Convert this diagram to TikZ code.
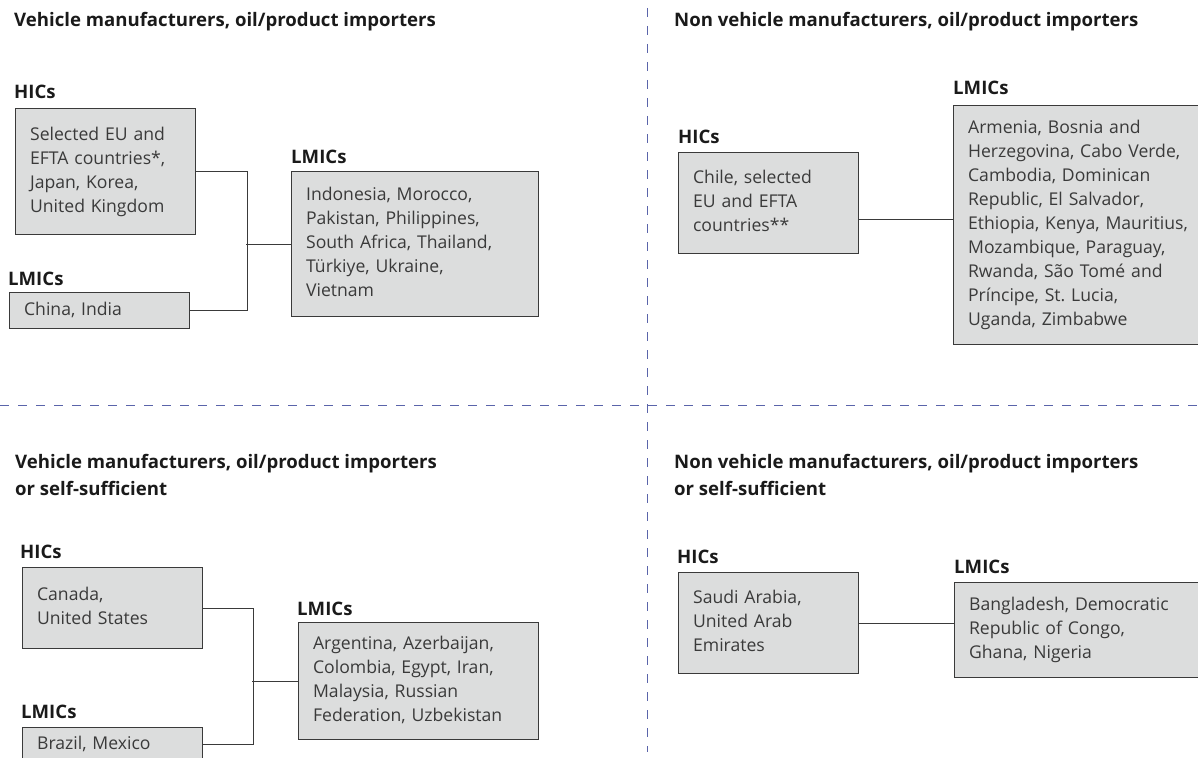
\documentclass[tikz,border=0pt]{standalone}
\usepackage{fontspec}
\setmainfont{Open Sans}
\frenchspacing
\definecolor{boxfill}{HTML}{DCDDDD}
\definecolor{boxline}{HTML}{3A3A3A}
\definecolor{bodytext}{HTML}{3A3A3A}
\definecolor{headtext}{HTML}{1A1A1A}
\definecolor{dashline}{HTML}{5A64AA}
\newcommand{\boxlines}[1]{\begin{tabular}{@{}l@{}}#1\end{tabular}}
\begin{document}
\begin{tikzpicture}[x=1pt,y=-1pt,
    head/.style={anchor=base west, inner sep=0pt, align=left, text=headtext,
      font=\fontsize{18.6}{27}\selectfont\bfseries},
    box/.style={draw=boxline, line width=1.2pt, fill=boxfill, anchor=north west,
      inner xsep=14.5pt, inner ysep=0pt, align=left, text=bodytext,
      font=\fontsize{17.6}{24}\selectfont},
    link/.style={draw=boxline, line width=1.1pt},
    divider/.style={draw=dashline, line width=1pt, dash pattern=on 9pt off 9pt}]
  \useasboundingbox (0,0) rectangle (1198,757);
  \clip (0,0) rectangle (1198,757);
  % dividers
  \draw[divider] (647,8) -- (647,752);
  \draw[divider] (0,405) -- (1198,405);
  % top left
  \node[head] (ttlA) at (14,27) {Vehicle manufacturers, oil/product importers};
  \node[head] (hicAlbl) at (14,99) {HICs};
  \node[box, text width=151pt, minimum height=126pt] (hicA) at (15,108)
    {\boxlines{Selected EU and\\EFTA countries*,\\Japan, Korea,\\United Kingdom}};
  \node[head] (lowAlbl) at (8,285) {LMICs};
  \node[box, text width=151pt, minimum height=36pt] (lowA) at (9,292) {\boxlines{China, India}};
  \node[head] (lmiAlbl) at (291,163) {LMICs};
  \node[box, text width=218pt, minimum height=145pt] (lmiA) at (291,171)
    {\boxlines{Indonesia, Morocco,\\Pakistan, Philippines,\\South Africa, Thailand,\\Türkiye, Ukraine,\\Vietnam}};
  \draw[link] (hicA.east) -- ++(51,0) |- (lowA.east);
  \draw[link] (lmiA.west) -- ++(-45,0);
  % top right
  \node[head] (ttlB) at (674,27) {Non vehicle manufacturers, oil/product importers};
  \node[head] (hicBlbl) at (678,143) {HICs};
  \node[box, text width=151pt, minimum height=101pt] (hicB) at (678,152)
    {\boxlines{Chile, selected\\EU and EFTA\\countries**}};
  \node[head] (lmiBlbl) at (953,95) {LMICs};
  \node[box, text width=250pt, minimum height=239pt] (lmiB) at (953,105)
    {\boxlines{Armenia, Bosnia and\\Herzegovina, Cabo Verde,\\Cambodia, Dominican\\Republic, El Salvador,\\Ethiopia, Kenya, Mauritius,\\Mozambique, Paraguay,\\Rwanda, São Tomé and\\Príncipe, St. Lucia,\\Uganda, Zimbabwe}};
  \draw[link] ([yshift=-16.5pt]hicB.east) -- ([yshift=-16.5pt]hicB.east -| lmiB.west);
  % bottom left
  \node[head] (ttlC) at (15,495) {Vehicle manufacturers, oil/product importers\\or self-sufficient};
  \node[head] (hicClbl) at (20,558) {HICs};
  \node[box, text width=151pt, minimum height=81pt] (hicC) at (22,567)
    {\boxlines{Canada,\\United States}};
  \node[head] (lowClbl) at (21,718) {LMICs};
  \node[box, text width=151pt, minimum height=34pt] (lowC) at (22,727) {\boxlines{Brazil, Mexico}};
  \node[head] (lmiClbl) at (297,615) {LMICs};
  \node[box, text width=211pt, minimum height=117pt] (lmiC) at (298,622)
    {\boxlines{Argentina, Azerbaijan,\\Colombia, Egypt, Iran,\\Malaysia, Russian\\Federation, Uzbekistan}};
  \draw[link] (hicC.east) -- ++(50,0) |- (lowC.east);
  \draw[link] (lmiC.west) -- ++(-46,0);
  % bottom right
  \node[head] (ttlD) at (674,495) {Non vehicle manufacturers, oil/product importers\\or self-sufficient};
  \node[head] (hicDlbl) at (677,563) {HICs};
  \node[box, text width=151pt, minimum height=101pt] (hicD) at (678,572)
    {\boxlines{Saudi Arabia,\\United Arab\\Emirates}};
  \node[head] (lmiDlbl) at (954,573) {LMICs};
  \node[box, text width=250pt, minimum height=95pt] (lmiD) at (954,582)
    {\boxlines{Bangladesh, Democratic\\Republic of Congo,\\Ghana, Nigeria}};
  \draw[link] (hicD.east) -- (hicD.east -| lmiD.west);
\end{tikzpicture}
\end{document}
